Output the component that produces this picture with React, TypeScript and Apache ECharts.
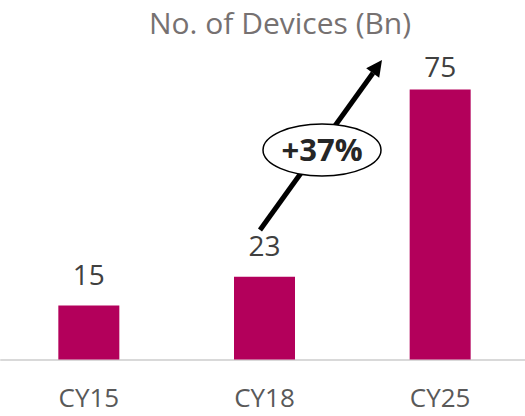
import React, { useEffect, useRef } from "react";
import * as echarts from "echarts";

const categories = ["CY15", "CY18", "CY25"];
const devices = [15, 23, 75];
const titleText = "No. of Devices (Bn)";
const growthText = "+37%";

const FONT = "'Open Sans', 'Noto Sans', sans-serif";
const BAR_COLOR = "#B3005B";

export default function App() {
  const ref = useRef<HTMLDivElement>(null);
  useEffect(() => {
    if (!ref.current) return;
    const chart = echarts.init(ref.current, null, { renderer: "svg" });
    const labelGaps = [18, 18, 10];
    chart.setOption({
      animation: false,
      backgroundColor: "#ffffff",
      grid: { left: 1, width: 527, top: 71.5, bottom: 56.5, containLabel: false, outerBoundsMode: "none" },
      xAxis: {
        type: "category",
        data: categories,
        axisLine: { show: true, lineStyle: { color: "#D9D9D9", width: 2 } },
        axisTick: { show: false },
        axisLabel: { color: "#595959", fontSize: 26, fontFamily: FONT, margin: 27, lineHeight: 20 },
      },
      yAxis: { type: "value", min: 0, max: 80, show: false, splitLine: { show: false } },
      series: [
        {
          type: "bar",
          barWidth: 61,
          itemStyle: { color: BAR_COLOR },
          data: devices.map((v, i) => ({ value: v, label: { distance: labelGaps[i] } })),
          label: {
            show: true,
            position: "top",
            color: "#404040",
            fontSize: 28,
            fontFamily: FONT,
          },
        },
      ],
      graphic: [
        {
          type: "text",
          x: 280,
          y: 22,
          style: {
            text: titleText,
            fill: "#767171",
            font: `30px ${FONT}`,
            textAlign: "center",
            textVerticalAlign: "middle",
          },
        },
        {
          type: "line",
          z: 10,
          shape: { x1: 260, y1: 230, x2: 373, y2: 73 },
          style: { stroke: "#000000", lineWidth: 5 },
        },
        {
          type: "polygon",
          z: 10,
          shape: { points: [[382, 60], [379.2, 77.7], [366.2, 68.3]] },
          style: { fill: "#000000" },
        },
        {
          type: "ellipse",
          z: 20,
          shape: { cx: 322, cy: 150, rx: 59, ry: 26 },
          style: { fill: "#ffffff", stroke: "#000000", lineWidth: 1.5 },
        },
        {
          type: "text",
          z: 30,
          x: 322,
          y: 149,
          style: {
            text: growthText,
            fill: "#262626",
            font: `bold 31px ${FONT}`,
            textAlign: "center",
            textVerticalAlign: "middle",
          },
        },
      ],
    });
    return () => chart.dispose();
  }, []);
  return <div ref={ref} style={{ width: 525, height: 416, position: "fixed", left: 0, top: 0 }} />;
}
